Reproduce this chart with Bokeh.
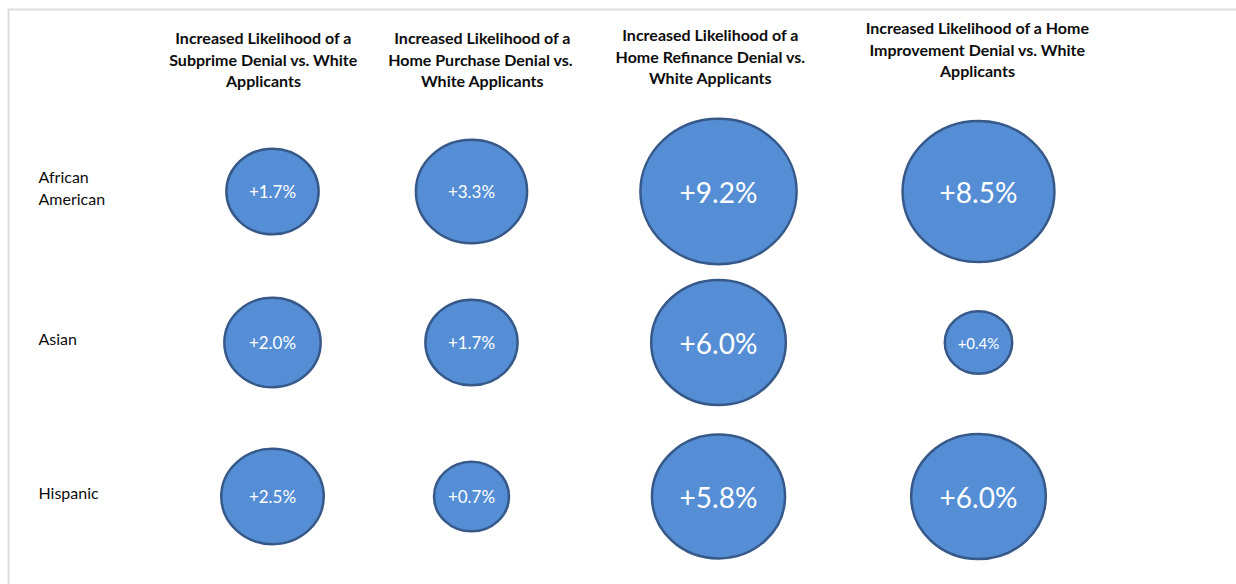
import numpy as np
from bokeh.plotting import figure
from bokeh.models import Range1d, BoxAnnotation, ColumnDataSource
from bokeh.core.properties import value
from bokeh.embed import file_html
from bokeh.resources import INLINE

# ---- data ----
groups = ["African\nAmerican", "Asian", "Hispanic"]
measures = [
    ["Increased Likelihood of a", "Subprime Denial vs. White", "Applicants"],
    ["Increased Likelihood of a", "Home Purchase  Denial vs.", "White Applicants"],
    ["Increased Likelihood of a", "Home Refinance Denial vs.", "White Applicants"],
    ["Increased Likelihood of a Home", "Improvement Denial vs. White", "Applicants"],
]
# rows = groups, columns = measures (percentage points)
african_american = [1.7, 3.3, 9.2, 8.5]
asian = [2.0, 1.7, 6.0, 0.4]
hispanic = [2.5, 0.7, 5.8, 6.0]
values = [african_american, asian, hispanic]

# ---- layout (pixels) ----
W, H = 1236, 584
col_x = [272, 471, 718, 978]
row_y = [191, 342, 496]
header_x = [263, 482, 710, 977]
header_top = [37, 37, 34, 27]
line_gap = 21.5

p = figure(width=W, height=H, output_backend="svg", toolbar_location=None,
           x_range=Range1d(0, W), y_range=Range1d(H, 0), min_border=0)
p.axis.visible = False
p.grid.visible = False
p.outline_line_color = None
p.background_fill_color = "white"
p.border_fill_color = "white"

# frame lines (top & left)
p.add_layout(BoxAnnotation(left=8, top=9, right=W + 20, bottom=H + 20,
                           fill_color=None, line_color="#8c8c8c", line_width=2))

xs, ys, vs, labels, ws, hs, fs = [], [], [], [], [], [], []
for r, row in enumerate(values):
    for c, v in enumerate(row):
        xs.append(col_x[c]); ys.append(row_y[r]); vs.append(v)
        labels.append(f"+{v:.1f}%")
        d = 44 + 37 * np.sqrt(v)
        ws.append(d); hs.append(d * 0.93)
        fs.append("28px" if v >= 5 else ("15px" if v < 0.5 else "17px"))

src = ColumnDataSource(dict(x=xs, y=ys, v=vs, label=labels, w=ws, h=hs, fs=fs))
p.ellipse(x="x", y="y", width="w", height="h", source=src,
          fill_color="#558ED5", line_color="#37598A", line_width=2.5)
p.text(x="x", y="y", text="label", source=src, text_color="white",
       text_font=value("Lato"), text_font_size="fs",
       text_align="center", text_baseline="middle")

# headers
hx, hy, ht = [], [], []
for c, lines in enumerate(measures):
    for i, ln in enumerate(lines):
        hx.append(header_x[c]); hy.append(header_top[c] + i * line_gap); ht.append(ln)
p.text(x=hx, y=hy, text=ht, text_color="#0d0d0d", text_font=value("Lato"),
       text_font_style="bold", text_font_size="16px",
       text_align="center", text_baseline="middle")

# row labels
gx, gy, gt = [], [], []
for r, g in enumerate(groups):
    lines = g.split("\n")
    n = len(lines)
    for i, ln in enumerate(lines):
        gx.append(38); gy.append(row_y[r] - 4 + (i - (n - 1) / 2) * line_gap); gt.append(ln)
p.text(x=gx, y=gy, text=gt, text_color="#0d0d0d", text_font=value("Lato"),
       text_font_size="16px", text_align="left", text_baseline="middle")

open("out.html", "w").write(file_html(p, INLINE))
